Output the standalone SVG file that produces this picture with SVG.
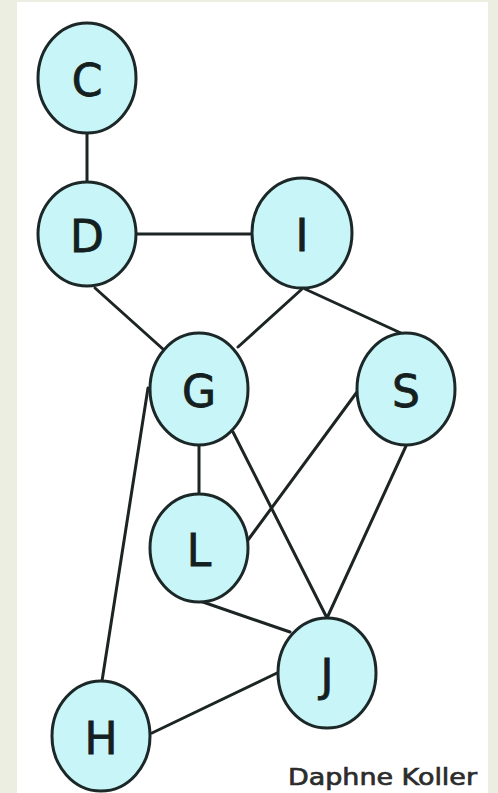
<svg xmlns="http://www.w3.org/2000/svg" width="498" height="793" viewBox="0 0 498 793">
  <style>
    .node ellipse { fill: #c8f5f7; stroke: #1c2828; stroke-width: 3; }
    .node text { font-family: "Comic Sans MS", "DejaVu Sans", sans-serif; font-size: 44px; fill: #142020; stroke: #142020; stroke-width: 0.8; text-anchor: middle; dominant-baseline: central; }
    #edges line { stroke: #1c2424; stroke-width: 3; stroke-linecap: round; }
    .credit { font-family: "DejaVu Sans", sans-serif; font-size: 23px; fill: #2c2c2c; stroke: #2c2c2c; stroke-width: 0.7; }
  </style>
  <rect x="0" y="0" width="498" height="793" fill="#ebeee0"/>
  <rect x="17" y="2" width="471" height="791" fill="#ffffff"/>

  <g id="edges">
    <line x1="87" y1="133" x2="87" y2="183"/>
    <line x1="135" y1="234" x2="252" y2="234"/>
    <line x1="95" y1="288" x2="164" y2="350"/>
    <line x1="302" y1="289" x2="238" y2="347"/>
    <line x1="305" y1="289" x2="403" y2="334"/>
    <line x1="199" y1="445" x2="199" y2="495"/>
    <line x1="233" y1="432" x2="327" y2="618"/>
    <line x1="357" y1="392" x2="248" y2="540"/>
    <line x1="406" y1="446" x2="327" y2="618"/>
    <line x1="148" y1="388" x2="102" y2="681"/>
    <line x1="200" y1="601" x2="290" y2="632"/>
    <line x1="152" y1="733" x2="277" y2="673"/>
  </g>

  <g id="C" class="node"><ellipse cx="87" cy="78" rx="49" ry="55"/><text x="87" y="80">C</text></g>
  <g id="D" class="node"><ellipse cx="87" cy="234" rx="49" ry="52"/><text x="87" y="236">D</text></g>
  <g id="I" class="node"><ellipse cx="302" cy="233" rx="50" ry="55"/><text x="302" y="235">I</text></g>
  <g id="G" class="node"><ellipse cx="199" cy="389" rx="49" ry="56"/><text x="199" y="391">G</text></g>
  <g id="S" class="node"><ellipse cx="406" cy="389" rx="49" ry="56"/><text x="406" y="391">S</text></g>
  <g id="L" class="node"><ellipse cx="199" cy="548" rx="49" ry="54"/><text x="199" y="550">L</text></g>
  <g id="J" class="node"><ellipse cx="327" cy="673" rx="49" ry="55"/><text x="327" y="675">J</text></g>
  <g id="H" class="node"><ellipse cx="101" cy="736" rx="49" ry="55"/><text x="101" y="738">H</text></g>

  <text class="credit" x="288" y="785" textLength="189" lengthAdjust="spacingAndGlyphs">Daphne Koller</text>
</svg>
